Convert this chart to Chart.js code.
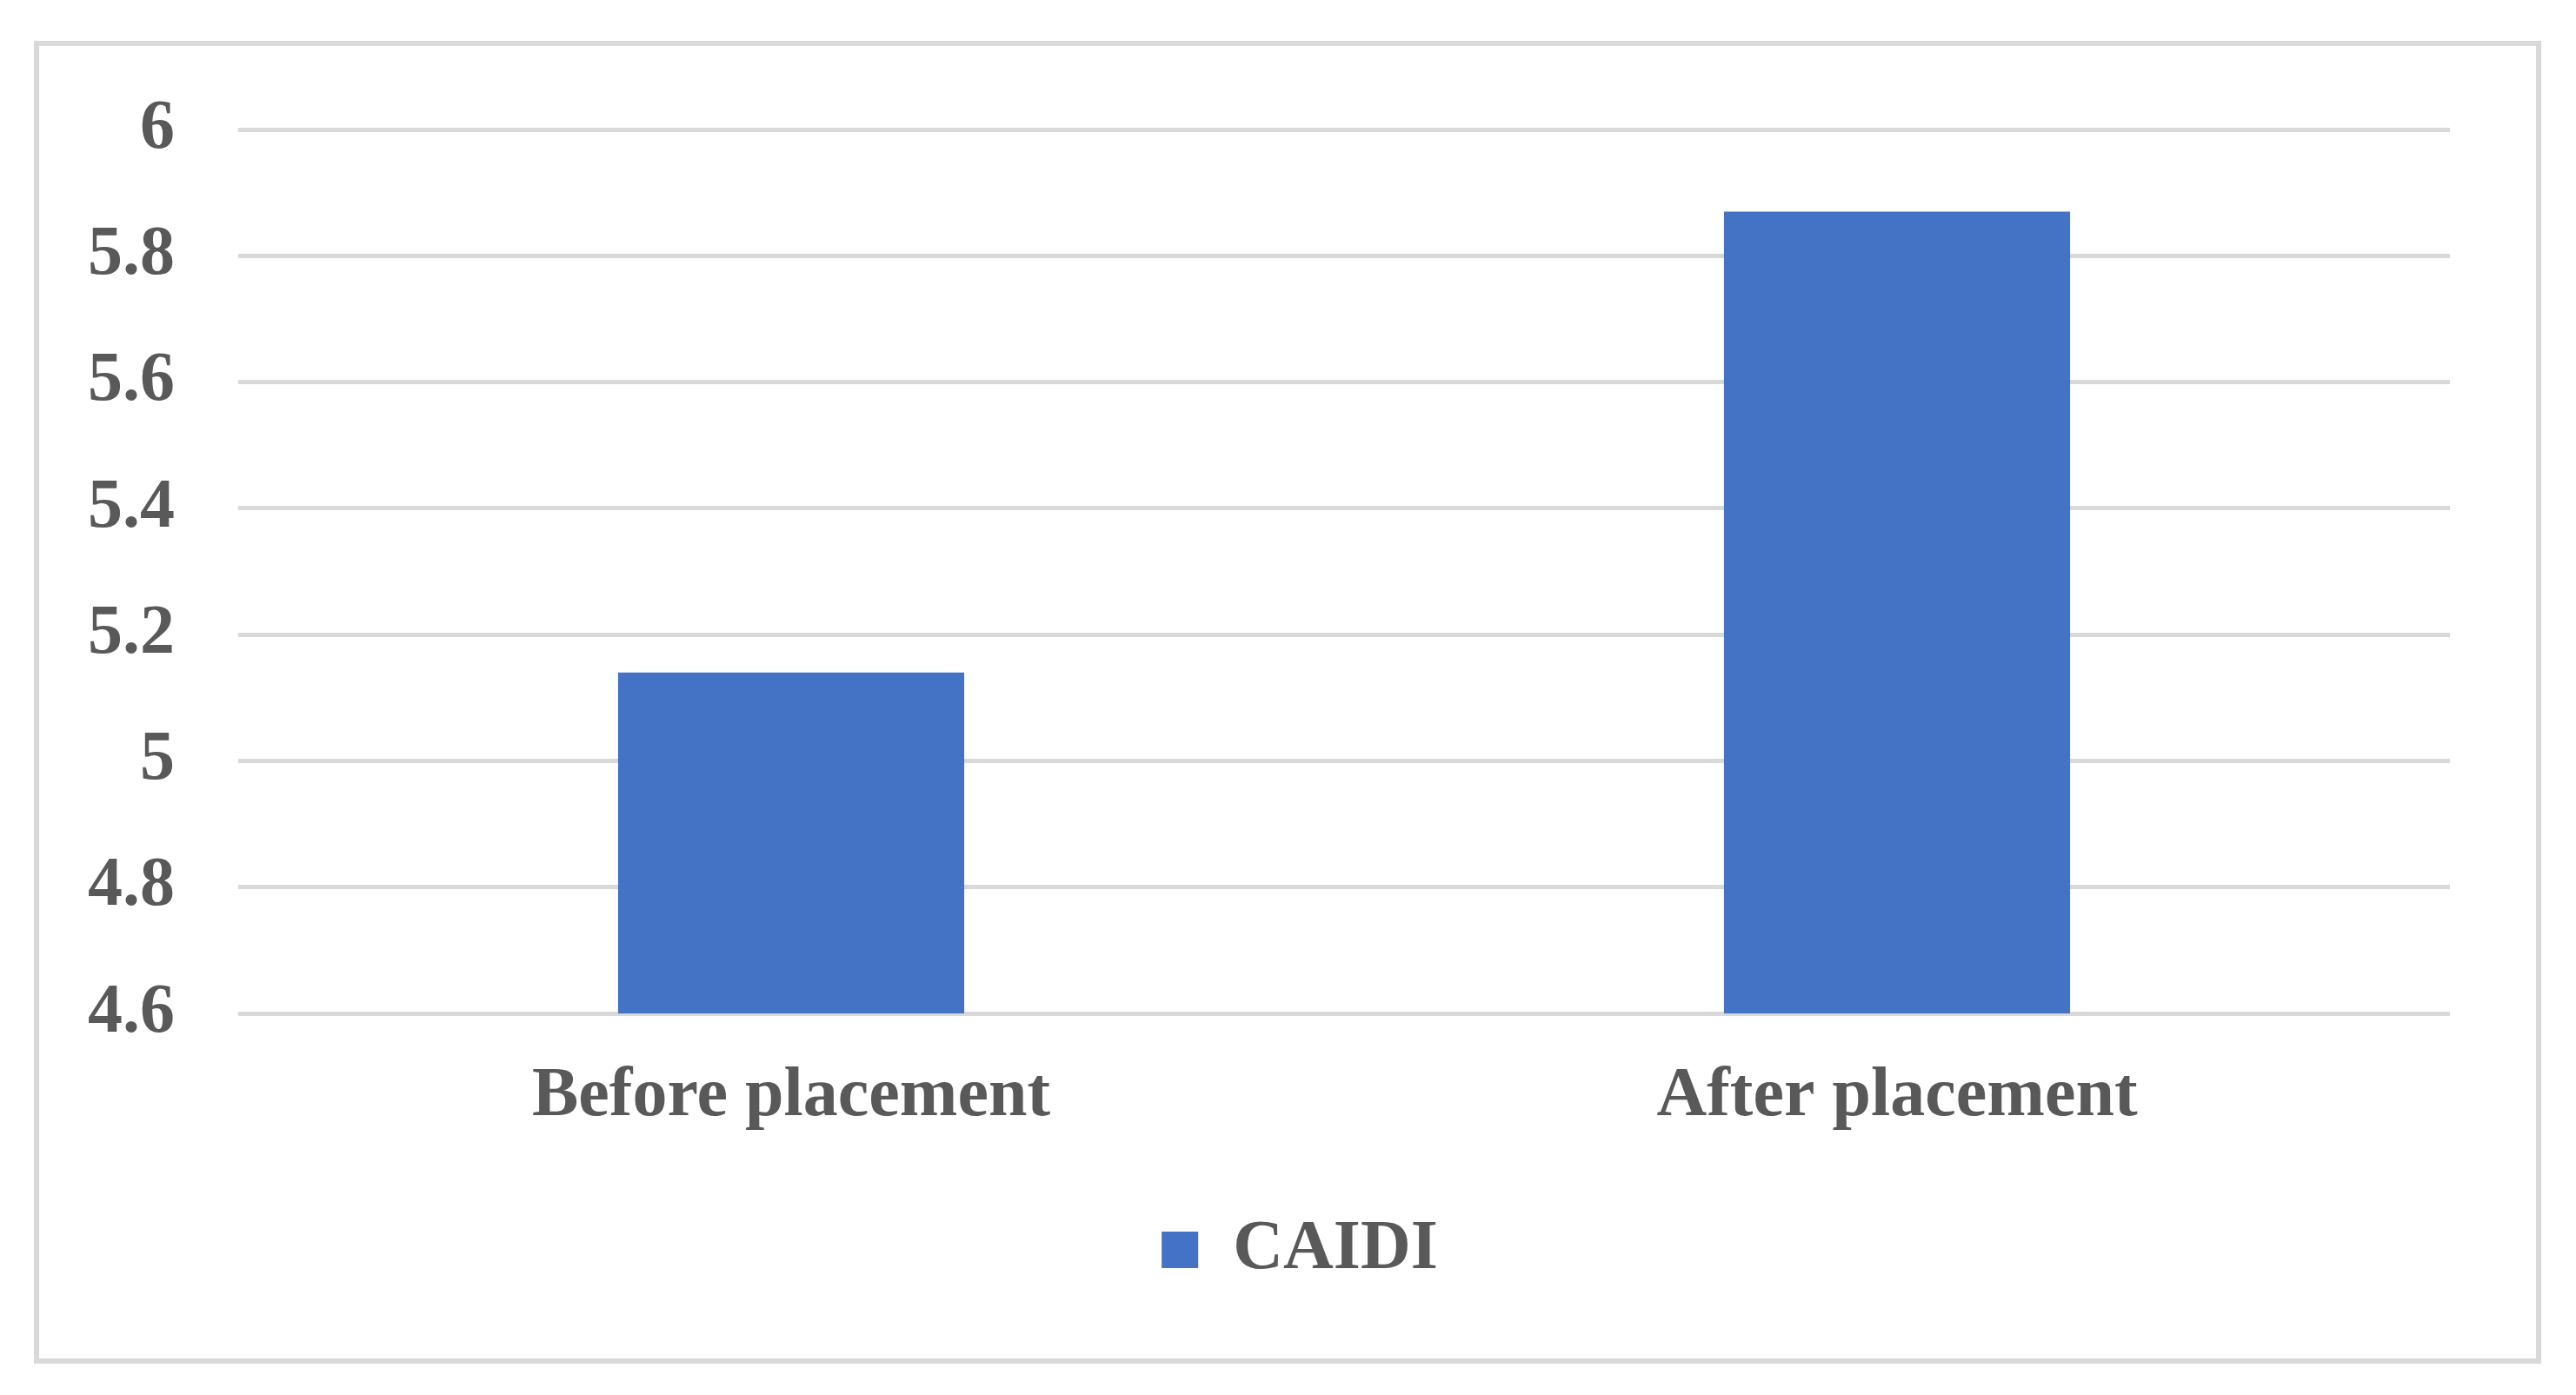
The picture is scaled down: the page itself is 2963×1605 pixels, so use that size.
<!DOCTYPE html>
<html>
<head>
<meta charset="utf-8">
<title>CAIDI</title>
<script src="https://cdn.jsdelivr.net/npm/chart.js@4"></script>
<style>
html,body{margin:0;padding:0;background:#ffffff}
#wrap{width:2963px;height:1605px}
</style>
</head>
<body>
<div id="wrap"><canvas id="caidiChart"></canvas></div>
<script>

// ------------------------------------
// DATA
// ------------------------------------

const categories = ["Before placement", "After placement"]
const caidiValues = [5.14, 5.87]
const seriesName = "CAIDI"

const yMin = 4.6
const yMax = 6
const yStep = 0.2

const textColor = "#595959"
const gridColor = "#d9d9d9"
const barColor = "#4472c4"
const fontFamily = "'Liberation Serif', 'Times New Roman', serif"


// ------------------------------------
// FRAME AROUND THE CHART + LEGEND SHIFT
// ------------------------------------

const framePlugin = {
    id: "frame",
    afterLayout(chart){
        // legend sits a bit left of the plot centre in the original
        if(chart.legend){
            chart.legend.left = 172
        }
    },
    beforeDraw(chart){
        const ctx = chart.ctx
        ctx.save()
        ctx.fillStyle = "#ffffff"
        ctx.fillRect(0, 0, chart.width, chart.height)
        ctx.strokeStyle = gridColor
        ctx.lineWidth = 6
        ctx.strokeRect(42, 50, 2878, 1516)
        ctx.restore()
    }
}


// ------------------------------------
// CHART
// ------------------------------------

Chart.defaults.font.family = fontFamily
Chart.defaults.color = textColor

const ctx = document.getElementById("caidiChart").getContext("2d")

new Chart(ctx,{
    type:"bar",
    data:{
        labels:categories,
        datasets:[
            {
                label:seriesName,
                data:caidiValues,
                backgroundColor:barColor,
                borderWidth:0,
                barPercentage:0.313,
                categoryPercentage:1
            }
        ]
    },
    options:{
        responsive:true,
        maintainAspectRatio:false,
        animation:false,
        layout:{
            padding:{left:0, top:149, right:145, bottom:117}
        },
        plugins:{
            legend:{
                position:"bottom",
                labels:{
                    boxWidth:42,
                    boxHeight:42,
                    padding:10,
                    color:textColor,
                    font:{size:80, weight:"bold", family:fontFamily}
                }
            },
            tooltip:{enabled:false}
        },
        scales:{
            x:{
                grid:{display:false, drawTicks:false},
                border:{display:false},
                ticks:{
                    padding:48,
                    color:textColor,
                    font:{size:80, weight:"bold", family:fontFamily}
                },
                afterFit(scale){
                    scale.height = 222
                }
            },
            y:{
                min:yMin,
                max:yMax,
                grid:{color:gridColor, lineWidth:5, drawTicks:false},
                border:{display:false},
                ticks:{
                    stepSize:yStep,
                    padding:73,
                    color:textColor,
                    font:{size:80, weight:"bold", family:fontFamily},
                    callback:(v)=>String(Math.round(v*10)/10)
                },
                afterFit(scale){
                    scale.width = 274
                }
            }
        }
    },
    plugins:[framePlugin]
})

</script>
</body>
</html>
